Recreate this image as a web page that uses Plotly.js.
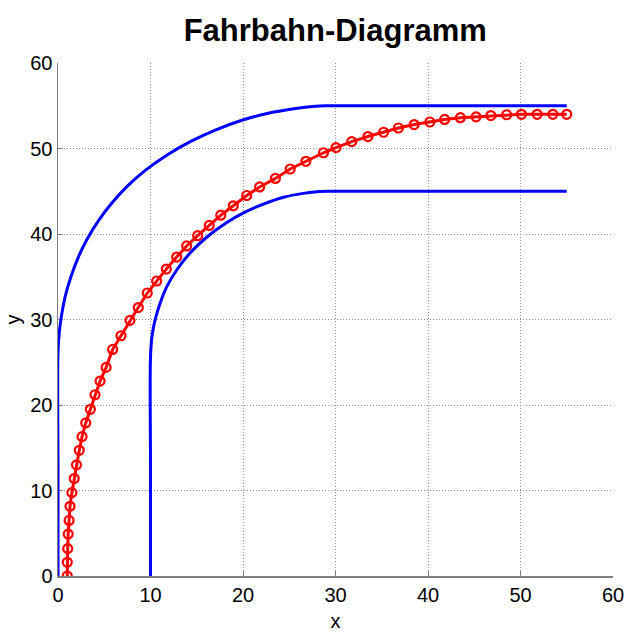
<!DOCTYPE html>
<html>
<head>
<meta charset="utf-8">
<script src="https://cdn.plot.ly/plotly-3.0.1.min.js"></script>
<style>html,body{margin:0;padding:0;background:#fff;}#chart{width:629px;height:634px;}</style>
</head>
<body>
<div id="chart"></div>
<script>
// Outer road edge
const outerX = [0, 0, 0, 0.15, 0.4, 0.8, 1.4, 2.2, 3.2, 4.4, 5.8, 7.5, 9.5, 11.8, 14.3, 17.0, 19.8, 22.6, 25.5, 27.5, 29, 31, 55];
const outerY = [0, 13, 26.2, 28.6, 30.6, 32.8, 35.0, 37.3, 39.5, 41.6, 43.6, 45.6, 47.5, 49.25, 50.8, 52.15, 53.27, 54.1, 54.65, 54.9, 55, 55, 55];
// Inner road edge
const innerX = [10, 10, 10, 10.17, 10.53, 11.07, 11.79, 12.87, 14.3, 16.1, 18.25, 20.1, 22.2, 24.4, 26.5, 28.3, 29.5, 31, 55];
const innerY = [0, 13, 25.6, 28.1, 30.1, 32.0, 33.9, 35.85, 37.8, 39.65, 41.35, 42.5, 43.5, 44.3, 44.75, 44.97, 45, 45, 45];
// Vehicle path (red, with markers)
const pathX = [1.0, 1.0, 1.05, 1.1, 1.2, 1.3, 1.5, 1.75, 2.0, 2.3, 2.6, 3.0, 3.5, 4.0, 4.55, 5.2,
  5.91, 6.81, 7.78, 8.68, 9.65, 10.67, 11.71, 12.83, 13.91, 15.1, 16.35, 17.6, 18.95, 20.4, 21.8, 23.5, 25.1, 26.8,
  28.7, 30.05, 31.75, 33.5, 35.2, 36.8, 38.5, 40.2, 41.8, 43.5, 45.2, 46.8, 48.5, 50.1, 51.8, 53.5, 55.0];
const pathY = [0, 1.6, 3.2, 4.9, 6.5, 8.15, 9.75, 11.4, 13.0, 14.7, 16.3, 17.9, 19.5, 21.2, 22.8, 24.4,
  26.5, 28.1, 29.9, 31.4, 33.1, 34.5, 35.9, 37.3, 38.6, 39.8, 41.0, 42.2, 43.3, 44.5, 45.5, 46.5, 47.6, 48.5,
  49.5, 50.1, 50.8, 51.4, 51.9, 52.4, 52.8, 53.1, 53.4, 53.6, 53.7, 53.85, 53.95, 54.0, 54.0, 54.0, 54.0];

const xTicks = [0, 10, 20, 30, 40, 50, 60];
const yTicks = [0, 10, 20, 30, 40, 50, 60];

const FONT = 'Liberation Sans, Arial, Helvetica, sans-serif';

const traces = [
  {x: outerX, y: outerY, mode: 'lines', line: {color: '#0000ff', width: 3, shape: 'spline', smoothing: 1}, hoverinfo: 'skip'},
  {x: innerX, y: innerY, mode: 'lines', line: {color: '#0000ff', width: 3, shape: 'spline', smoothing: 1}, hoverinfo: 'skip'},
  {x: pathX, y: pathY, mode: 'lines+markers', line: {color: '#ff0000', width: 3},
   marker: {symbol: 'circle-open', size: 9, color: '#ff0000', line: {width: 2.2, color: '#ff0000'}}, hoverinfo: 'skip'}
];

const axisCommon = {
  range: [0, 60], autorange: false, showgrid: true, gridcolor: '#8c8c8c', griddash: '1px,2px', gridwidth: 1,
  zeroline: false, showline: true, linecolor: '#7f7f7f', linewidth: 1.5, mirror: false,
  ticks: 'inside', ticklen: 5, tickcolor: '#7f7f7f', layer: 'below traces',
  tickfont: {family: FONT, size: 20, color: '#000'}
};

const layout = {
  width: 629, height: 634,
  paper_bgcolor: '#fff', plot_bgcolor: '#fff',
  margin: {l: 58, r: 16, t: 63, b: 58},
  showlegend: false,
  title: {text: '<b>Fahrbahn-Diagramm</b>', x: 0.533, xanchor: 'center', y: 0.952, yanchor: 'middle',
          font: {family: FONT, size: 31, color: '#000'}},
  xaxis: Object.assign({}, axisCommon, {tickvals: xTicks, ticktext: xTicks.map(String),
          title: {text: 'x', standoff: 9, font: {family: FONT, size: 20, color: '#000'}}}),
  yaxis: Object.assign({}, axisCommon, {tickvals: yTicks, ticktext: yTicks.map(String),
          title: {text: 'y', standoff: 4, font: {family: FONT, size: 20, color: '#000'}}})
};

Plotly.newPlot('chart', traces, layout, {displayModeBar: false, staticPlot: true});
</script>
</body>
</html>
